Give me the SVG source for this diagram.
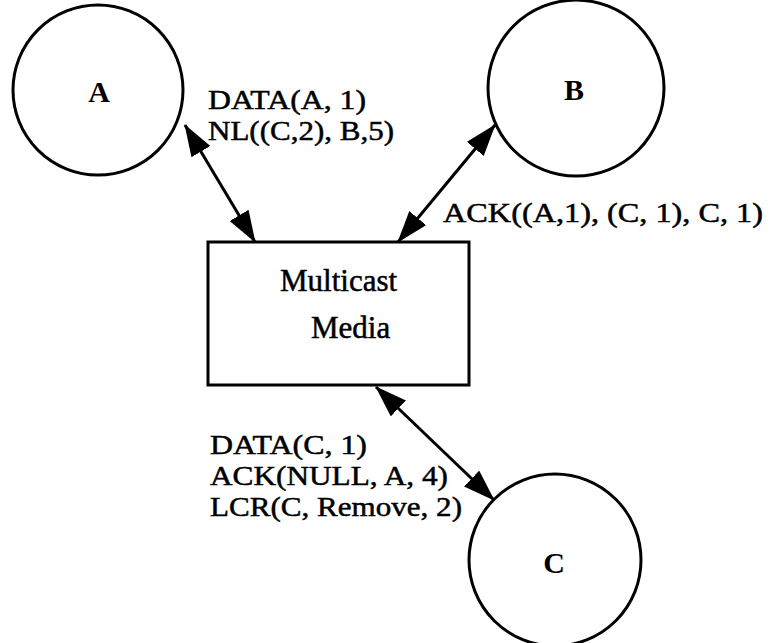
<svg xmlns="http://www.w3.org/2000/svg" width="769" height="643" viewBox="0 0 769 643">
  <defs>
    <style>
      .node { fill: #fff; stroke: #000; stroke-width: 3; }
      .lbl { font-family: "Liberation Serif", "Times New Roman", serif; font-size: 28px; fill: #000; stroke: #000; stroke-width: 0.5; }
      .big { font-size: 31px; }
      .nlbl { font-family: "Liberation Serif", "Times New Roman", serif; font-size: 30px; font-weight: bold; fill: #000; text-anchor: middle; }
      .conn { stroke: #000; stroke-width: 3; fill: none; marker-start: url(#ah); marker-end: url(#ah); }
    </style>
    <marker id="ah" markerUnits="userSpaceOnUse" markerWidth="32" markerHeight="22" refX="31" refY="11" orient="auto-start-reverse" viewBox="0 0 32 22">
      <path d="M0,0 L32,11 L0,22 z" fill="#000"/>
    </marker>
  </defs>
  <rect width="769" height="643" fill="#fff"/>
  <g id="connectors">
    <line class="conn" x1="185" y1="125" x2="255" y2="242"/>
    <line class="conn" x1="495" y1="125" x2="398" y2="242"/>
    <line class="conn" x1="376" y1="387" x2="494" y2="500"/>
  </g>
  <g id="node-A">
    <circle class="node" cx="98" cy="90" r="85"/>
    <text class="nlbl" x="99" y="102">A</text>
  </g>
  <g id="node-B">
    <circle class="node" cx="576" cy="88" r="88"/>
    <text class="nlbl" x="574" y="100">B</text>
  </g>
  <g id="node-C">
    <circle class="node" cx="555" cy="560" r="86"/>
    <text class="nlbl" x="554" y="573">C</text>
  </g>
  <g id="node-media">
    <rect class="node" x="208" y="242" width="261" height="143"/>
    <text class="lbl big" x="280" y="291">Multicast</text>
    <text class="lbl big" x="311" y="338">Media</text>
  </g>
  <g id="labels">
    <text class="lbl" x="208" y="109" textLength="158" lengthAdjust="spacingAndGlyphs">DATA(A, 1)</text>
    <text class="lbl" x="208" y="140" textLength="186" lengthAdjust="spacingAndGlyphs">NL((C,2), B,5)</text>
    <text class="lbl" x="443" y="222" textLength="320" lengthAdjust="spacingAndGlyphs">ACK((A,1), (C, 1), C, 1)</text>
    <text class="lbl" x="210" y="454" textLength="157" lengthAdjust="spacingAndGlyphs">DATA(C, 1)</text>
    <text class="lbl" x="210" y="485" textLength="238" lengthAdjust="spacingAndGlyphs">ACK(NULL, A, 4)</text>
    <text class="lbl" x="210" y="516" textLength="252" lengthAdjust="spacingAndGlyphs">LCR(C, Remove, 2)</text>
  </g>
</svg>
